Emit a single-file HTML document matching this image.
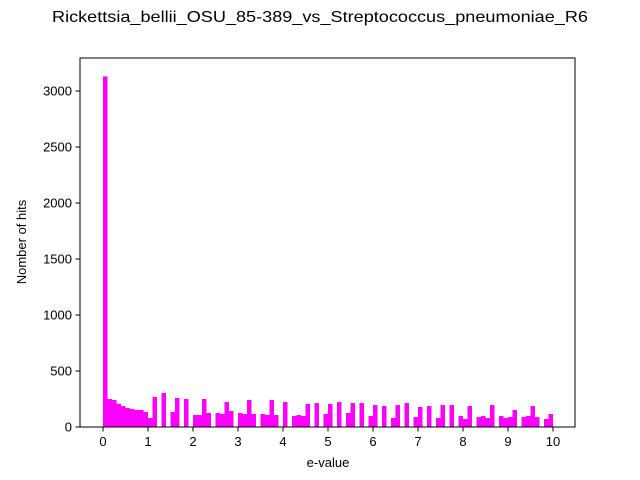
<!DOCTYPE html>
<html><head><meta charset="utf-8"><style>
body{margin:0;background:#fff;}
svg{display:block;font-family:"Liberation Sans","DejaVu Sans",sans-serif;}
</style></head><body>
<svg id="chart" width="640" height="480">
<text x="320" y="22" text-anchor="middle" font-size="16" textLength="536" lengthAdjust="spacingAndGlyphs">Rickettsia_bellii_OSU_85-389_vs_Streptococcus_pneumoniae_R6</text>
<g id="bars"></g>
<rect x="80" y="58" width="495" height="369" fill="none" stroke="#000" stroke-width="1"/>
<g id="xticks"></g>
<g id="yticks"></g>
<text x="328" y="467" text-anchor="middle" font-size="13">e-value</text>
<text transform="translate(26,242) rotate(-90)" text-anchor="middle" font-size="13">Nomber of hits</text>
</svg>
<script>
const binWidth = 0.1;
const counts = [3130,250,241,208,187,170,161,152,152,134,80,268,0,304,0,134,259,0,250,0,
107,107,250,125,0,125,116,223,143,0,125,116,241,116,0,116,107,241,107,0,
223,0,98,107,98,205,0,214,0,116,205,0,223,0,125,214,0,214,0,98,
196,0,187,0,80,196,0,214,0,89,179,0,187,0,80,196,0,196,0,98,
71,187,0,89,98,80,196,0,98,80,89,152,0,89,98,187,89,0,71,116];
const xTicks = [0,1,2,3,4,5,6,7,8,9,10];
const yTicks = [0,500,1000,1500,2000,2500,3000];
const NS='http://www.w3.org/2000/svg';
const xs = v => 103 + v*45;
const ys = c => 427 - c*0.112;
const bars = document.getElementById('bars');
counts.forEach((c,i)=>{
  if(c<=0) return;
  const r=document.createElementNS(NS,'rect');
  const x0=xs(i*binWidth), x1=xs((i+1)*binWidth);
  r.setAttribute('x',x0); r.setAttribute('width',x1-x0);
  r.setAttribute('y',ys(c)); r.setAttribute('height',ys(0)-ys(c));
  r.setAttribute('fill','#ff00ff');
  
  
  bars.appendChild(r);
});
const xg=document.getElementById('xticks');
xTicks.forEach(t=>{
  const l=document.createElementNS(NS,'line');
  l.setAttribute('x1',xs(t));l.setAttribute('x2',xs(t));l.setAttribute('y1',427);l.setAttribute('y2',431.5);l.setAttribute('stroke','#000');
  
  
  xg.appendChild(l);
  const tx=document.createElementNS(NS,'text');
  tx.setAttribute('x',xs(t));tx.setAttribute('y',446);tx.setAttribute('text-anchor','middle');tx.setAttribute('font-size','13');
  tx.textContent=t;
  
  
  xg.appendChild(tx);
});
const yg=document.getElementById('yticks');
yTicks.forEach(t=>{
  const l=document.createElementNS(NS,'line');
  l.setAttribute('x1',75.5);l.setAttribute('x2',80);l.setAttribute('y1',ys(t));l.setAttribute('y2',ys(t));l.setAttribute('stroke','#000');
  
  
  yg.appendChild(l);
  const tx=document.createElementNS(NS,'text');
  tx.setAttribute('x',72);tx.setAttribute('y',ys(t)+4.5);tx.setAttribute('text-anchor','end');tx.setAttribute('font-size','13');
  tx.textContent=t;
  
  
  yg.appendChild(tx);
});
</script>
</body></html>
